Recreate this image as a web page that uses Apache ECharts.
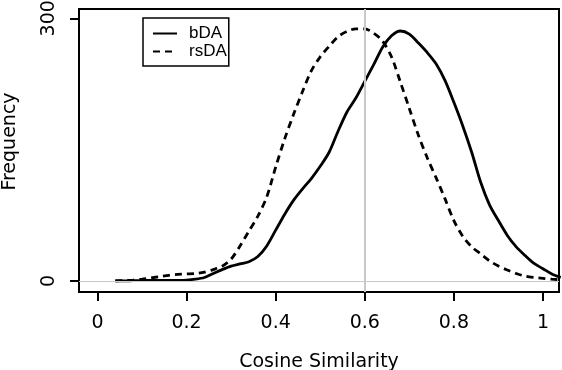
<!DOCTYPE html>
<html>
<head>
    <meta charset="utf-8">
    <script src="https://cdn.jsdelivr.net/npm/echarts@6/dist/echarts.min.js"></script>
    <style>
        body { margin: 0; padding: 0; background: #fff; }
        #chart { width: 562px; height: 370px; }
    </style>
</head>
<body>
<div id="chart"></div>
<script>
    // density estimates
    var xValues = [0.04, 0.06, 0.08, 0.10, 0.12, 0.14, 0.16, 0.18, 0.20, 0.22,
        0.24, 0.26, 0.28, 0.30, 0.32, 0.34, 0.36, 0.38, 0.40, 0.42,
        0.44, 0.46, 0.48, 0.50, 0.52, 0.54, 0.56, 0.58, 0.60, 0.62,
        0.64, 0.66, 0.68, 0.70, 0.72, 0.74, 0.76, 0.78, 0.80, 0.82,
        0.84, 0.86, 0.88, 0.90, 0.92, 0.94, 0.96, 0.98, 1.00, 1.02, 1.04];
    var bdaValues = [0, 0, 0.3, 0.5, 0.7, 0.7, 0.6, 0.7, 1, 2,
        4, 8.5, 13, 17, 19.5, 22, 28, 40, 58, 76,
        92, 105, 117, 131, 147, 171, 193, 209, 228, 247,
        267, 280, 285.5, 282, 272, 261, 248, 229, 204, 177,
        147, 113, 87, 69, 52, 39, 29, 20, 14, 8, 4];
    var rsdaValues = [0, 0.5, 1, 2, 3.5, 5, 6.5, 7.5, 8, 8.5,
        10, 13, 17, 25, 40, 57, 74, 96, 130, 162,
        190, 216, 240, 256, 268, 279, 285, 288, 288, 283,
        274, 256, 227, 197, 167, 141, 118, 94, 69, 51,
        39, 31, 23, 17, 12.5, 8.5, 5.5, 4, 3, 2, 1.5];
    var xTicks = [0, 0.2, 0.4, 0.6, 0.8, 1];
    var yTicks = [0, 300];
    var refX = 0.6;
    var refY = 0;

    function pairs(ys) {
        return xValues.map(function (x, i) { return [x, ys[i]]; });
    }

    var chart = echarts.init(document.getElementById('chart'), null, { renderer: 'canvas' });
    var axisFont = { fontFamily: 'DejaVu Sans', fontSize: 19, color: '#000' };

    chart.setOption({
        animation: false,
        backgroundColor: '#fff',
        grid: {
            left: 79, top: 9, width: 480, height: 283,
            containLabel: false, outerBoundsMode: 'none',
            show: true, borderColor: '#000', borderWidth: 2, backgroundColor: 'transparent'
        },
        legend: {
            data: ['bDA', 'rsDA'],
            orient: 'vertical',
            left: 143, top: 18,
            padding: [7, 2, 6, 9],
            itemWidth: 24, itemHeight: 14, itemGap: 1,
            borderColor: '#000', borderWidth: 1.5,
            itemStyle: { opacity: 0 },
            textStyle: { fontFamily: 'Liberation Sans', fontSize: 17, lineHeight: 17, color: '#000', padding: [0, 0, 0, 7] }
        },
        xAxis: {
            type: 'value',
            min: -0.0415, max: 1.036,
            name: 'Cosine Similarity',
            nameLocation: 'middle',
            nameGap: 61,
            nameTextStyle: axisFont,
            axisLine: { show: false, onZero: false },
            axisTick: { show: true, length: 9, customValues: xTicks, lineStyle: { color: '#000', width: 2 } },
            axisLabel: Object.assign({ customValues: xTicks, margin: 22 }, axisFont),
            splitLine: { show: false }
        },
        yAxis: {
            type: 'value',
            min: -12.6, max: 310.6,
            name: 'Frequency',
            nameLocation: 'middle',
            nameGap: 59,
            nameRotate: 90,
            nameTextStyle: Object.assign({ padding: [0, 0, 0, 18] }, axisFont),
            axisLine: { show: false, onZero: false },
            axisTick: { show: true, length: 9, customValues: yTicks, lineStyle: { color: '#000', width: 2 } },
            axisLabel: Object.assign({ customValues: yTicks, rotate: 90, margin: 20 }, axisFont),
            splitLine: { show: false }
        },
        series: [
            {
                name: 'ref',
                type: 'line',
                data: [],
                z: 1,
                markLine: {
                    silent: true,
                    symbol: 'none',
                    label: { show: false },
                    data: [
                        { xAxis: refX, lineStyle: { color: '#c8c8c8', width: 2, type: 'solid' } },
                        { yAxis: refY, lineStyle: { color: '#c8c8c8', width: 1, type: 'solid' } }
                    ]
                }
            },
            {
                name: 'bDA',
                type: 'line',
                data: pairs(bdaValues),
                smooth: 0.3,
                symbol: 'none',
                z: 3,
                color: '#000',
                lineStyle: { color: '#000', width: 2.8, type: 'solid' }
            },
            {
                name: 'rsDA',
                type: 'line',
                data: pairs(rsdaValues),
                smooth: 0.3,
                symbol: 'none',
                z: 3,
                color: '#000',
                lineStyle: { color: '#000', width: 2.8, type: [7, 5] }
            }
        ]
    });
</script>
</body>
</html>
